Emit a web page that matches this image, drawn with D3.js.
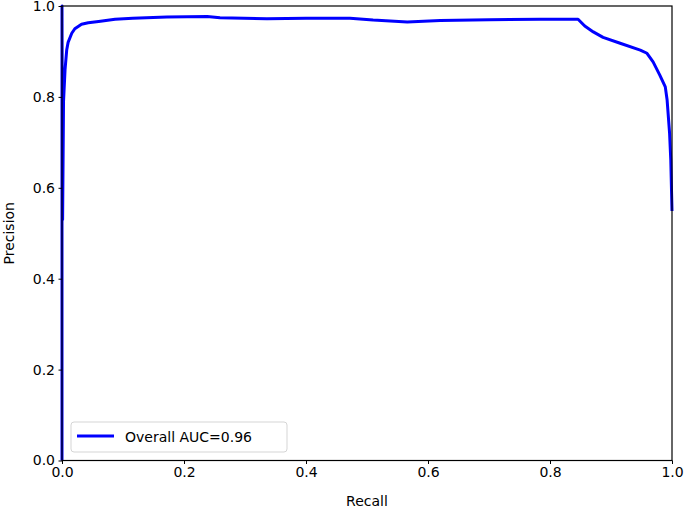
<!DOCTYPE html>
<html>
<head>
<meta charset="utf-8">
<script src="https://cdn.jsdelivr.net/npm/d3@7"></script>
<style>
body { margin: 0; background: #fff; }
text { font-family: "DejaVu Sans", sans-serif; fill: #000; }
</style>
</head>
<body>
<svg width="685" height="509"></svg>
<script>
// values
var recall = [0, 0, 0.001, 0.0025, 0.005, 0.0077, 0.01, 0.016, 0.021, 0.032, 0.043, 0.06, 0.087,
    0.116, 0.172, 0.238, 0.259, 0.336, 0.4, 0.472, 0.51, 0.566, 0.62, 0.70, 0.784, 0.846,
    0.857, 0.871, 0.887, 0.915, 0.948, 0.959, 0.969, 0.980, 0.989, 0.992, 0.996, 0.998, 1.0];
var precision = [0, 1.0, 0.53, 0.79, 0.86, 0.903, 0.92, 0.94, 0.95, 0.96, 0.963, 0.966, 0.971,
    0.973, 0.976, 0.977, 0.974, 0.972, 0.973, 0.973, 0.969, 0.965, 0.968, 0.970, 0.971, 0.971,
    0.956, 0.943, 0.931, 0.918, 0.903, 0.896, 0.877, 0.848, 0.822, 0.793, 0.721, 0.661, 0.549];
var xTicks = [0, 0.2, 0.4, 0.6, 0.8, 1.0];
var yTicks = [0, 0.2, 0.4, 0.6, 0.8, 1.0];
var legendLabel = "Overall AUC=0.96";

var margin = {top: 6, right: 13, bottom: 48.5, left: 62},
    width = 685 - margin.left - margin.right,
    height = 509 - margin.top - margin.bottom;

var svg = d3.select("svg")
    .append("g")
    .attr("transform", "translate(" + margin.left + "," + margin.top + ")");

var xScale = d3.scaleLinear().domain([0, 1]).range([0, width]);
var yScale = d3.scaleLinear().domain([0, 1]).range([height, 0]);

var points = recall.map(function (r, i) { return {x: r, y: precision[i]}; });

var line = d3.line()
    .x(function (d) { return xScale(d.x); })
    .y(function (d) { return yScale(d.y); });

svg.append("path")
    .datum(points)
    .attr("d", line)
    .attr("fill", "none")
    .attr("stroke", "#0000ff")
    .attr("stroke-width", 3)
    .attr("stroke-linejoin", "round");

// axes
var xAxis = svg.append("g")
    .attr("transform", "translate(0," + height + ")")
    .call(d3.axisBottom(xScale).tickValues(xTicks).tickFormat(d3.format(".1f")).tickSize(3.5).tickPadding(3.5));
var yAxis = svg.append("g")
    .call(d3.axisLeft(yScale).tickValues(yTicks).tickFormat(d3.format(".1f")).tickSize(3.5).tickPadding(3.5));

[xAxis, yAxis].forEach(function (a) {
    a.select(".domain").remove();
    a.selectAll("line").attr("stroke", "#000").attr("stroke-width", 1);
    a.selectAll("text").style("font-size", "14px").style("font-family", "DejaVu Sans");
});

// frame
svg.append("rect")
    .attr("width", width)
    .attr("height", height)
    .attr("fill", "none")
    .attr("stroke", "#000")
    .attr("stroke-width", 1.2);

// axis labels
svg.append("text")
    .attr("x", width / 2)
    .attr("y", height + 45)
    .attr("text-anchor", "middle")
    .style("font-size", "14px")
    .text("Recall");
svg.append("text")
    .attr("transform", "translate(-48," + (height / 2) + ") rotate(-90)")
    .attr("text-anchor", "middle")
    .style("font-size", "14px")
    .text("Precision");

// legend
var legend = svg.append("g").attr("transform", "translate(9," + (height - 38.5) + ")");
legend.append("rect")
    .attr("width", 216)
    .attr("height", 30)
    .attr("rx", 3)
    .attr("fill", "#fff")
    .attr("fill-opacity", 0.8)
    .attr("stroke", "#d5d5d5")
    .attr("stroke-width", 1);
legend.append("line")
    .attr("x1", 6).attr("x2", 43)
    .attr("y1", 14).attr("y2", 14)
    .attr("stroke", "#0000ff")
    .attr("stroke-width", 3);
legend.append("text")
    .attr("x", 54)
    .attr("y", 19.5)
    .style("font-size", "14px")
    .text(legendLabel);
</script>
</body>
</html>
